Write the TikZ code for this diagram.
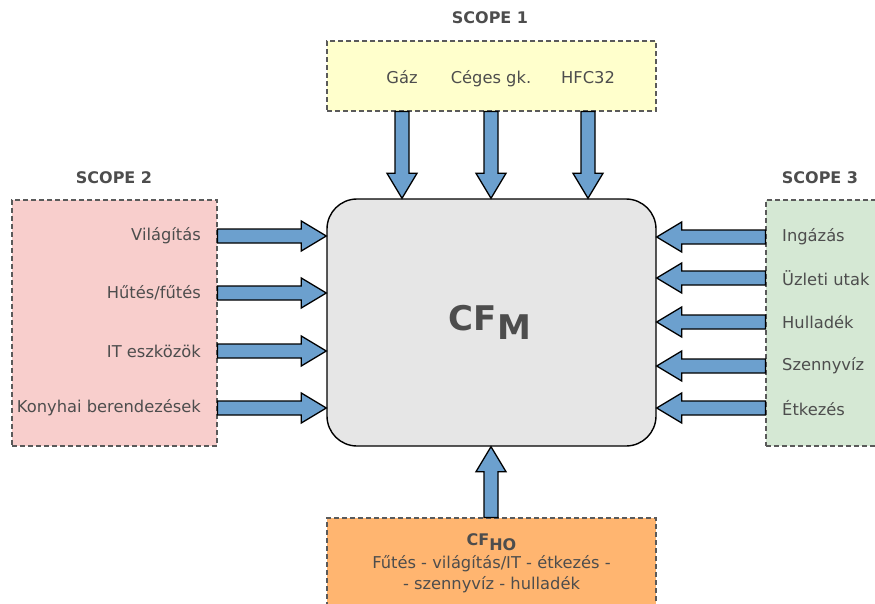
\documentclass[tikz,border=0pt]{standalone}
\usepackage{fontspec}
\setmainfont{DejaVu Sans}
\usetikzlibrary{calc}
\definecolor{txt}{HTML}{4D4D4D}
\definecolor{arrowblue}{HTML}{6CA0CE}
\definecolor{sone}{HTML}{FFFFCC}
\definecolor{stwo}{HTML}{F8CECC}
\definecolor{sthree}{HTML}{D5E8D4}
\definecolor{hocol}{HTML}{FFB570}
\definecolor{maincol}{HTML}{E6E6E6}
\definecolor{dashcol}{HTML}{5A5A5A}
\tikzset{
  scopebox/.style={draw=dashcol, line width=1.1pt, dash pattern=on 5pt off 3pt, inner sep=0pt},
  lbl/.style={text=txt, font=\fontsize{16.3}{19}\selectfont, inner sep=0pt},
  title/.style={text=txt, font=\bfseries\fontsize{16}{19}\selectfont, inner sep=0pt},
  fatarr/.style={draw=black, fill=arrowblue, line width=1.3pt, line join=miter},
}
% horizontal fat arrow from #1 to #2 (same y)
\newcommand\harr[2]{%
  \path[fatarr] let \p1=(#1), \p2=(#2), \n3={(\x2-\x1)/abs(\x2-\x1)} in
    (\x1,{\y1+7pt}) -- ({\x2-\n3*25pt},{\y1+7pt}) -- ({\x2-\n3*25pt},{\y1+15pt}) --
    (\x2,\y1) -- ({\x2-\n3*25pt},{\y1-15pt}) -- ({\x2-\n3*25pt},{\y1-7pt}) --
    (\x1,{\y1-7pt}) -- cycle;}
% vertical fat arrow from #1 to #2 (same x)
\newcommand\varr[2]{%
  \path[fatarr] let \p1=(#1), \p2=(#2), \n3={(\y2-\y1)/abs(\y2-\y1)} in
    ({\x1+7pt},\y1) -- ({\x1+7pt},{\y2-\n3*25pt}) -- ({\x1+15pt},{\y2-\n3*25pt}) --
    (\x1,\y2) -- ({\x1-15pt},{\y2-\n3*25pt}) -- ({\x1-7pt},{\y2-\n3*25pt}) --
    ({\x1-7pt},\y1) -- cycle;}
\begin{document}
\begin{tikzpicture}[x=1pt,y=-1pt]
\useasboundingbox[fill=white] (0,0) rectangle (875,603);

% boxes
\node[scopebox, fill=sone, minimum width=329pt, minimum height=70pt] (S1) at (491.5,76) {};
\node[scopebox, fill=stwo, minimum width=205pt, minimum height=246pt] (S2) at (114.5,323) {};
\node[scopebox, fill=sthree, minimum width=112pt, minimum height=246pt] (S3) at (822,323) {};
\node[scopebox, fill=hocol, minimum width=329pt, minimum height=90pt] (HO) at (491.5,563) {};
\node[draw=black, line width=1.4pt, fill=maincol, rounded corners=30pt,
      minimum width=329pt, minimum height=247pt, inner sep=0pt] (M) at (491.5,322.5) {};

% titles
\node[title] (t1) at (490,18) {SCOPE 1};
\node[title] (t2) at (114,178) {SCOPE 2};
\node[title] (t3) at (820,178) {SCOPE 3};

% main label
\node[text=txt, font=\bfseries\fontsize{34}{40}\selectfont, inner sep=0pt] (cfm) at (490,322)
  {CF\raisebox{-9pt}{M}};

% scope 1 items
\node[lbl, anchor=base] (g1) at (402,83) {Gáz};
\node[lbl, anchor=base] (g2) at (491,83) {Céges gk.};
\node[lbl, anchor=base] (g3) at (588,83) {HFC32};

% scope 2 items
\node[lbl, anchor=east] (l1) at (201,236) {Világítás};
\node[lbl, anchor=east] (l2) at (201,293) {Hűtés/fűtés};
\node[lbl, anchor=east] (l3) at (201,351) {IT eszközök};
\node[lbl, anchor=east] (l4) at (201,408) {Konyhai berendezések};

% scope 3 items
\node[lbl, anchor=west] (r1) at (782,237) {Ingázás};
\node[lbl, anchor=west] (r2) at (782,278) {Üzleti utak};
\node[lbl, anchor=west] (r3) at (782,322) {Hulladék};
\node[lbl, anchor=west] (r4) at (782,366) {Szennyvíz};
\node[lbl, anchor=west] (r5) at (782,408) {Étkezés};

% home office text
\node[text=txt, inner sep=0pt, font=\bfseries\fontsize{16}{18}\selectfont, anchor=base]
  (hot) at (491.5,545) {CF\raisebox{-5pt}{HO}};
\node[lbl, anchor=base] (ho1) at (491.5,568) {Fűtés - világítás/IT - étkezés -};
\node[lbl, anchor=base] (ho2) at (491.5,589) {- szennyvíz - hulladék};

% arrows top
\varr{S1.south -| g1}{M.north -| g1}
\varr{S1.south -| g2}{M.north -| g2}
\varr{S1.south -| g3}{M.north -| g3}
% arrow bottom
\varr{HO.north -| g2}{M.south -| g2}
% arrows left
\harr{S2.east |- l1}{M.west |- l1}
\harr{S2.east |- l2}{M.west |- l2}
\harr{S2.east |- l3}{M.west |- l3}
\harr{S2.east |- l4}{M.west |- l4}
% arrows right
\harr{S3.west |- r1}{M.east |- r1}
\harr{S3.west |- r2}{M.east |- r2}
\harr{S3.west |- r3}{M.east |- r3}
\harr{S3.west |- r4}{M.east |- r4}
\harr{S3.west |- r5}{M.east |- r5}
\end{tikzpicture}
\end{document}
